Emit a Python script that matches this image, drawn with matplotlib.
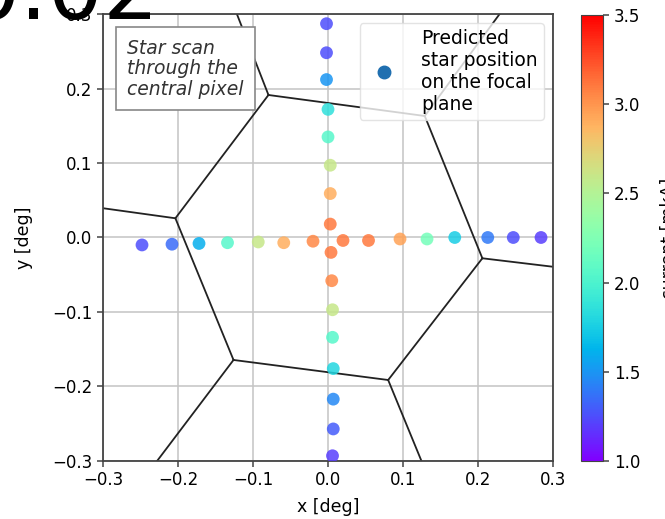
import numpy as np
import matplotlib as mpl
mpl.use("Agg")
import matplotlib.pyplot as plt
from matplotlib.lines import Line2D

# ---------------------------------------------------------------------------
# data: star scan positions [deg] and measured current [mkA]
# ---------------------------------------------------------------------------
# vertical scan (top -> bottom)
scan_v_x = [-0.002, -0.002, -0.002, 0.000, 0.000, 0.003, 0.003, 0.003,
            0.004, 0.005, 0.006, 0.006, 0.007, 0.007, 0.007, 0.006]
scan_v_y = [0.287, 0.248, 0.212, 0.172, 0.135, 0.097, 0.059, 0.018,
            -0.020, -0.058, -0.097, -0.134, -0.176, -0.217, -0.257, -0.293]
scan_v_i = [1.25, 1.25, 1.50, 1.85, 2.05, 2.60, 2.90, 3.10,
            3.10, 3.05, 2.60, 2.05, 1.80, 1.45, 1.30, 1.20]

# horizontal scan (left -> right)
scan_h_x = [-0.248, -0.208, -0.172, -0.134, -0.093, -0.059, -0.020, 0.020,
            0.054, 0.096, 0.132, 0.169, 0.213, 0.247, 0.284]
scan_h_y = [-0.010, -0.009, -0.008, -0.007, -0.006, -0.007, -0.005, -0.004,
            -0.004, -0.002, -0.002, 0.000, 0.000, 0.000, 0.000]
scan_h_i = [1.25, 1.35, 1.60, 2.05, 2.60, 2.90, 3.05, 3.10,
            3.10, 2.95, 2.20, 1.75, 1.40, 1.25, 1.20]

# pixel boundaries: central hexagon and the edges leaving its corners
hex_x = [-0.0794, 0.1290, 0.2058, 0.0802, -0.1260, -0.2035]
hex_y = [0.1913, 0.1631, -0.0279, -0.1913, -0.1644, 0.0258]
spoke_x = [-0.1215, 0.2288, 0.2993, 0.1246, -0.2279, -0.2993]
spoke_y = [0.300, 0.300, -0.0392, -0.300, -0.300, 0.0392]

ticks = [-0.3, -0.2, -0.1, 0.0, 0.1, 0.2, 0.3]
cbar_ticks = [1.0, 1.5, 2.0, 2.5, 3.0, 3.5]

# ---------------------------------------------------------------------------
# figure
# ---------------------------------------------------------------------------
plt.rcParams["font.family"] = "DejaVu Sans"
fig = plt.figure(figsize=(6.65, 5.19), dpi=100)
ax = fig.add_axes([0.1549, 0.1118, 0.6767, 0.8612])
cax = fig.add_axes([0.8744, 0.1118, 0.0331, 0.8593])

norm = mpl.colors.Normalize(vmin=1.0, vmax=3.5)
cmap = plt.get_cmap("rainbow")

# pixel edges
for i in range(6):
    j = (i + 1) % 6
    ax.plot([hex_x[i], hex_x[j]], [hex_y[i], hex_y[j]], color="#222222", lw=1.3, zorder=2)
    ax.plot([hex_x[i], spoke_x[i]], [hex_y[i], spoke_y[i]], color="#222222", lw=1.3, zorder=2)

sc = ax.scatter(scan_h_x + scan_v_x, scan_h_y + scan_v_y, c=scan_h_i + scan_v_i,
                cmap=cmap, norm=norm, s=85, alpha=0.85, edgecolors="none", zorder=3)

ax.set_xlim(-0.3, 0.3)
ax.set_ylim(-0.3, 0.3)
ax.set_xticks(ticks)
ax.set_yticks(ticks)
ax.grid(True, color="#c4c4c4", lw=1.1)
ax.set_axisbelow(True)
ax.tick_params(labelsize=12, length=4, width=1.1, color="#444444")
for sp in ax.spines.values():
    sp.set_color("#444444")
    sp.set_linewidth(1.3)
ax.set_xlabel("x [deg]", fontsize=12.5, labelpad=6)
ax.set_ylabel("y [deg]", fontsize=12.5, labelpad=14)

ax.text(0.054, 0.945, "Star scan\nthrough the\ncentral pixel", transform=ax.transAxes,
        ha="left", va="top", fontsize=13.5, style="italic", color="#333333", linespacing=1.1,
        bbox=dict(boxstyle="square,pad=0.6", fc="white", ec="#888888", lw=1.2), zorder=5)

proxy = Line2D([], [], ls="none", marker="o", markersize=9, color="#1f6fb0")
leg = ax.legend([proxy], ["Predicted\nstar position\non the focal\nplane"], loc="upper right",
                fontsize=13.5, frameon=True, fancybox=True, framealpha=0.8,
                bbox_to_anchor=(1.0, 1.0), handletextpad=1.0, borderpad=0.3)
leg.get_frame().set_edgecolor("#dddddd")

cb = fig.colorbar(sc, cax=cax, ticks=cbar_ticks)
cb.solids.set_alpha(1.0)
cb.ax.tick_params(labelsize=12, length=4, width=1.1, color="#444444")
cb.outline.set_edgecolor("#444444")
cb.set_label("current [mkA]", fontsize=12.5, labelpad=14)

fig.text(-36 / 665, 1 - 19 / 519, "0.02", fontsize=63, va="baseline", ha="left", zorder=10)

fig.savefig("out.png", dpi=100)
